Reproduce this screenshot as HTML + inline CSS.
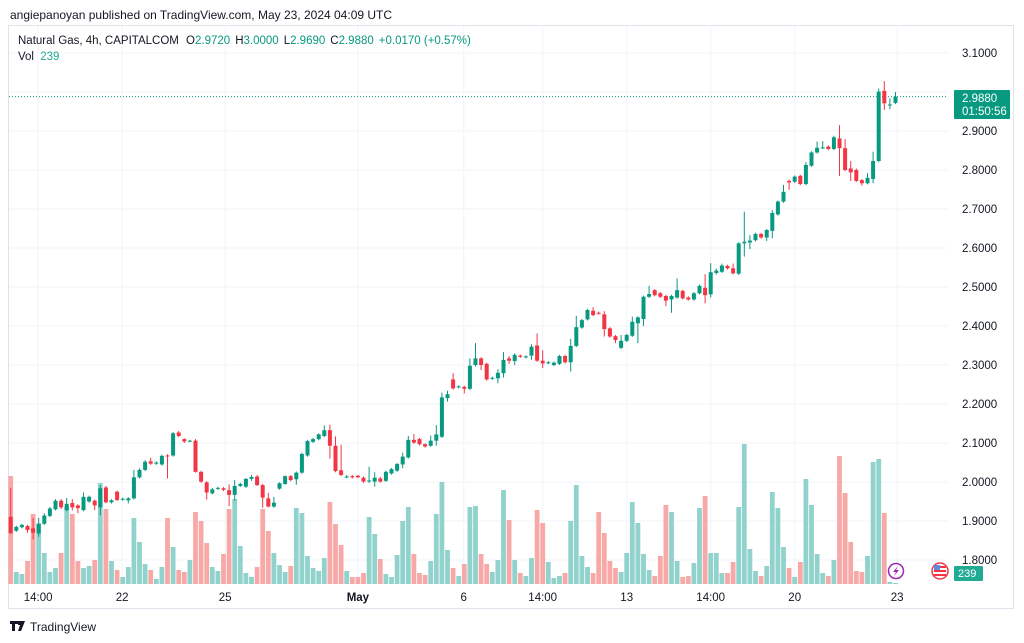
<!DOCTYPE html>
<html><head><meta charset="utf-8">
<style>
html,body{margin:0;padding:0;background:#fff;}
body{width:1024px;height:643px;overflow:hidden;position:relative;font-family:"Liberation Sans","DejaVu Sans",sans-serif;color:#131722;}
svg{position:absolute;left:0;top:0;}
</style></head>
<body>
<svg id="chart" width="1024" height="643" viewBox="0 0 1024 643">
  <text x="10" y="19" font-size="12" fill="#131722">angiepanoyan published on TradingView.com, May 23, 2024 04:09 UTC</text>
  <rect x="8.5" y="25.5" width="1005" height="583" fill="none" stroke="#e0e3eb"/>
  <g id="grid"></g>
  <g id="vol"></g>
  <g id="candles"></g>
  <g id="axes"></g>
  <g font-size="11.5">
    <text x="18" y="44"><tspan fill="#131722">Natural Gas, 4h, CAPITALCOM </tspan><tspan fill="#131722" dx="4">O</tspan><tspan fill="#089981">2.9720</tspan><tspan fill="#131722" dx="5">H</tspan><tspan fill="#089981">3.0000</tspan><tspan fill="#131722" dx="5">L</tspan><tspan fill="#089981">2.9690</tspan><tspan fill="#131722" dx="5">C</tspan><tspan fill="#089981">2.9880</tspan><tspan fill="#089981" dx="5">+0.0170 (+0.57%)</tspan></text>
    <text x="18" y="60"><tspan fill="#131722">Vol </tspan><tspan fill="#22ab94" dx="3">239</tspan></text>
  </g>
  <g>
    <circle cx="896" cy="571" r="7.5" fill="#fff" stroke="#9c27b0" stroke-width="1.5"/>
    <path d="M898 566 L893 572 L896 572 L894 576 L899 570 L896 570 Z" fill="#9c27b0"/>
  </g>
  <g>
    <circle cx="940" cy="571" r="8" fill="#fff" stroke="#f23645" stroke-width="1.5"/>
    <rect x="934" y="566" width="12" height="2" fill="#f23645"/>
    <rect x="934" y="570" width="12" height="2" fill="#f23645"/>
    <rect x="934" y="574" width="12" height="2" fill="#f23645"/>
    <rect x="934" y="565" width="6" height="5" fill="#5b8de0"/>
  </g>
  <g>
    <rect x="954" y="90" width="56" height="29" fill="#089981" rx="1"/>
    <text x="962" y="102" font-size="11.5" fill="#fff">2.9880</text>
    <text x="962" y="115" font-size="11.5" fill="#fff">01:50:56</text>
  </g>
  <g>
    <rect x="954" y="566" width="29" height="15" fill="#22ab94" rx="1"/>
    <text x="958" y="577" font-size="11" fill="#fff">239</text>
  </g>
  <g>
    <path d="M10 621 h8 v3 h-3 v7 h-3 v-7 h-2 z M18 621 h7 l-4 10 h-3 l2-6 h-2 z" fill="#131722"/>
    <text x="30" y="631" font-size="12" fill="#131722">TradingView</text>
  </g>
</svg>
<script>
const opens=[1.911,1.875,1.884,1.887,1.881,1.868,1.893,1.913,1.930,1.952,1.928,1.946,1.940,1.928,1.950,1.952,1.935,1.986,1.948,1.975,1.955,1.953,1.958,2.012,2.031,2.053,2.047,2.045,2.068,2.068,2.127,2.110,2.105,2.106,2.026,1.999,1.971,1.983,1.984,1.979,1.967,1.990,1.988,2.008,2.014,1.992,1.958,1.937,1.983,1.995,2.015,2.007,2.024,2.068,2.103,2.110,2.118,2.133,2.093,2.030,2.012,2.015,2.016,2.011,2.003,2.001,2.009,2.003,2.022,2.029,2.045,2.063,2.108,2.110,2.097,2.093,2.106,2.116,2.215,2.263,2.243,2.244,2.239,2.300,2.317,2.303,2.265,2.266,2.279,2.317,2.310,2.324,2.320,2.324,2.350,2.311,2.305,2.300,2.303,2.323,2.307,2.349,2.396,2.417,2.439,2.434,2.430,2.394,2.374,2.344,2.362,2.375,2.407,2.418,2.475,2.492,2.484,2.477,2.468,2.473,2.490,2.473,2.468,2.484,2.498,2.481,2.536,2.539,2.554,2.548,2.534,2.612,2.614,2.620,2.636,2.627,2.644,2.686,2.719,2.772,2.770,2.785,2.764,2.811,2.845,2.857,2.860,2.854,2.881,2.856,2.804,2.800,2.774,2.766,2.777,2.823,3.003,2.967,2.972];
const highs=[1.985,1.888,1.893,1.890,1.908,1.908,1.920,1.936,1.956,1.956,1.959,1.956,1.943,1.973,1.965,1.955,1.992,1.990,1.956,1.978,1.960,1.961,2.031,2.035,2.056,2.062,2.053,2.070,2.071,2.128,2.131,2.112,2.108,2.110,2.029,2.002,1.985,1.988,1.987,1.994,2.005,1.998,2.010,2.018,2.018,1.995,1.972,1.962,1.999,2.017,2.018,2.027,2.075,2.108,2.113,2.125,2.145,2.147,2.117,2.096,2.018,2.018,2.018,2.014,2.039,2.025,2.013,2.029,2.036,2.049,2.075,2.118,2.123,2.113,2.099,2.119,2.146,2.229,2.234,2.279,2.248,2.247,2.317,2.356,2.320,2.306,2.270,2.289,2.333,2.323,2.330,2.327,2.325,2.353,2.381,2.338,2.310,2.309,2.326,2.326,2.367,2.426,2.418,2.444,2.448,2.437,2.438,2.397,2.377,2.377,2.380,2.424,2.425,2.478,2.503,2.495,2.487,2.480,2.480,2.522,2.493,2.476,2.487,2.506,2.533,2.561,2.547,2.560,2.557,2.560,2.615,2.693,2.633,2.639,2.639,2.649,2.697,2.722,2.762,2.775,2.786,2.788,2.820,2.848,2.873,2.874,2.863,2.888,2.915,2.879,2.823,2.804,2.777,2.792,2.847,3.009,3.028,2.984,3.000];
const lows=[1.866,1.872,1.881,1.870,1.853,1.860,1.890,1.910,1.927,1.931,1.925,1.927,1.920,1.925,1.947,1.928,1.915,1.945,1.945,1.951,1.952,1.945,1.955,2.009,2.028,2.044,2.044,2.042,2.009,2.065,2.115,2.100,2.102,2.024,1.998,1.955,1.968,1.980,1.977,1.938,1.952,1.987,1.985,2.003,1.990,1.934,1.935,1.934,1.980,1.993,2.002,1.993,2.021,2.065,2.100,2.107,2.115,2.060,2.025,2.015,2.010,2.009,2.010,1.998,1.997,1.988,1.998,2.000,2.019,2.026,2.035,2.060,2.098,2.094,2.088,2.090,2.093,2.113,2.206,2.237,2.240,2.227,2.236,2.296,2.287,2.260,2.262,2.253,2.268,2.303,2.300,2.318,2.317,2.313,2.308,2.292,2.302,2.297,2.300,2.304,2.283,2.346,2.393,2.414,2.425,2.429,2.373,2.370,2.356,2.341,2.359,2.372,2.356,2.400,2.472,2.476,2.472,2.451,2.434,2.470,2.468,2.465,2.465,2.481,2.458,2.473,2.532,2.536,2.545,2.532,2.531,2.578,2.597,2.617,2.624,2.618,2.625,2.683,2.716,2.749,2.767,2.761,2.761,2.808,2.842,2.854,2.851,2.851,2.785,2.797,2.772,2.769,2.760,2.763,2.766,2.820,2.954,2.956,2.969];
const closes=[1.869,1.885,1.890,1.877,1.870,1.892,1.914,1.932,1.952,1.935,1.944,1.935,1.933,1.962,1.962,1.940,1.984,1.948,1.953,1.954,1.957,1.958,2.012,2.031,2.052,2.047,2.050,2.067,2.066,2.125,2.118,2.104,2.106,2.026,2.001,1.973,1.981,1.985,1.980,1.967,1.990,1.995,2.008,2.013,1.992,1.960,1.937,1.947,1.997,2.015,2.005,2.024,2.072,2.105,2.110,2.122,2.133,2.093,2.028,2.018,2.014,2.012,2.012,2.001,2.004,2.011,2.001,2.026,2.033,2.046,2.065,2.108,2.101,2.097,2.091,2.106,2.122,2.217,2.225,2.240,2.245,2.239,2.298,2.317,2.300,2.263,2.267,2.280,2.313,2.311,2.326,2.321,2.322,2.347,2.311,2.304,2.307,2.306,2.323,2.307,2.349,2.397,2.415,2.441,2.428,2.432,2.392,2.373,2.364,2.362,2.377,2.411,2.422,2.475,2.482,2.479,2.475,2.465,2.477,2.492,2.471,2.468,2.484,2.503,2.479,2.538,2.542,2.555,2.548,2.535,2.612,2.616,2.619,2.636,2.627,2.646,2.690,2.719,2.744,2.768,2.783,2.764,2.813,2.845,2.857,2.858,2.854,2.884,2.856,2.800,2.794,2.772,2.766,2.780,2.823,3.001,2.971,2.968,2.988];
const volumes=[108,12,10,23,70,61,31,12,16,31,77,70,23,16,18,24,101,75,23,14,7,17,66,42,20,14,5,17,66,37,14,12,24,72,63,41,17,13,30,75,85,38,11,7,17,75,53,31,19,12,18,76,71,28,16,13,26,82,60,39,13,7,7,11,67,50,25,10,7,29,63,77,30,11,9,23,70,102,34,16,8,20,77,78,30,20,12,24,94,64,24,11,8,26,74,61,22,6,8,11,63,99,28,17,11,72,51,23,16,12,31,82,61,30,14,8,28,79,72,23,7,8,21,76,88,31,31,11,11,22,77,140,35,13,8,18,92,76,37,16,7,22,105,79,30,11,8,24,128,91,42,13,12,28,122,125,71,2,1];
const priceTicks=[1.8,1.9,2.0,2.1,2.2,2.3,2.4,2.5,2.6,2.7,2.8,2.9,3.0,3.1];
const timeLabels=["14:00","22","25","May","6","14:00","13","14:00","20","23"];
const timeLabelIndex=[4.9,19.9,38.3,62,80.9,95,110,125,140,158.3];
const lastPrice=2.988;

const NS="http://www.w3.org/2000/svg";
function xOf(i){return 10.7+5.6*i;}
function yOf(p){return 53+(3.1-p)*390;}
function vOf(v){return 584-v*1.0;}
function mk(tag,attrs,parent){const e=document.createElementNS(NS,tag);for(const k in attrs)e.setAttribute(k,attrs[k]);parent.appendChild(e);return e;}

const grid=document.getElementById('grid');
priceTicks.forEach(p=>{
  const ln=mk('line',{x1:9,x2:948,y1:yOf(p),y2:yOf(p),stroke:'#f0f3fa','stroke-width':1},grid);
  
  
});
timeLabelIndex.forEach(t=>{
  const ln=mk('line',{x1:xOf(t),x2:xOf(t),y1:26,y2:586,stroke:'#f0f3fa','stroke-width':1},grid);
  
  
});

const vol=document.getElementById('vol');
volumes.forEach((v,i)=>{
  const up=closes[i]>=opens[i];
  const r=mk('rect',{x:xOf(i)-2.4,y:vOf(v),width:4.8,height:584-vOf(v),fill:up?'#92d2cc':'#f7a9a7'},vol);
  
  
});

const cg=document.getElementById('candles');
const dl=mk('line',{x1:9,x2:948,y1:yOf(lastPrice),y2:yOf(lastPrice),stroke:'#089981','stroke-width':1,'stroke-dasharray':'1 2'},cg);


opens.forEach((o,i)=>{
  const c=closes[i],up=c>=o,col=up?'#089981':'#f23645';
  const g=mk('g',{},cg);
  
  
  mk('line',{x1:xOf(i),x2:xOf(i),y1:yOf(highs[i]),y2:yOf(lows[i]),stroke:col,'stroke-width':1},g);
  const top=yOf(Math.max(o,c)),bot=yOf(Math.min(o,c));
  mk('rect',{x:xOf(i)-2,y:top,width:4,height:Math.max(1,bot-top),fill:col},g);
});

const ax=document.getElementById('axes');
priceTicks.forEach(p=>{
  if(Math.abs(p-3.0)<1e-9)return;
  const t=mk('text',{x:962,y:yOf(p)+4,'font-size':11.5,fill:'#131722'},ax);
  t.textContent=p.toFixed(4);
  
  
});
timeLabels.forEach((s,k)=>{
  const t=mk('text',{x:xOf(timeLabelIndex[k]),y:601,'font-size':11.5,fill:'#131722','text-anchor':'middle','font-weight':s==='May'?'bold':'normal'},ax);
  t.textContent=s;
  
  
});
</script>
</body></html>
